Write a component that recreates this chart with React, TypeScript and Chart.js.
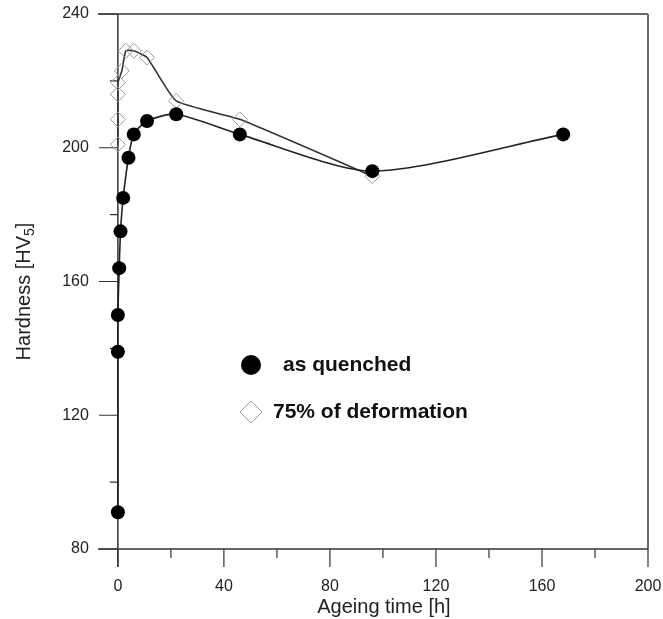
import React, { useEffect, useRef } from "react";
import { Chart, registerables } from "chart.js";
Chart.register(...registerables);

const quenchedTime = [0, 0, 0, 0.5, 1, 2, 4, 6, 11, 22, 46, 96, 168];
const quenchedHardness = [91, 139, 150, 164, 175, 185, 197, 204, 208, 210, 204, 193, 204];
const deformedTime = [0, 0, 0, 0, 1.5, 3, 6, 11, 22, 46, 96];
const deformedHardness = [201, 208.5, 216, 219.5, 223, 229, 229, 227, 214, 208.5, 191.5];
const xMajorTicks = [0, 40, 80, 120, 160, 200];
const xMinorTicks = [20, 60, 100, 140, 180];
const yMajorTicks = [80, 120, 160, 200, 240];
const yMinorTicks = [100, 140, 180, 220];
const xTitle = "Ageing time [h]";
const yTitleMain = "Hardness [HV";
const yTitleSub = "5";
const yTitleEnd = "]";
const legendLabels = ["as quenched", "75% of deformation"];

const FONT = "'Liberation Sans', Arial, Helvetica, sans-serif";

const axesPlugin = {
  id: "customAxes",
  beforeDatasetsDraw(chart: any) {
    const { ctx, chartArea, scales } = chart;
    const xs = scales.x;
    const ys = scales.y;
    const { left, right, top, bottom } = chartArea;
    const x0 = xs.getPixelForValue(0);
    ctx.save();
    ctx.strokeStyle = "#6a6a6a";
    ctx.lineWidth = 2;
    ctx.beginPath();
    ctx.moveTo(left, top);
    ctx.lineTo(right, top);
    ctx.moveTo(right, top);
    ctx.lineTo(right, bottom);
    ctx.stroke();
    ctx.strokeStyle = "#333";
    ctx.lineWidth = 1.5;
    ctx.beginPath();
    ctx.moveTo(left, bottom);
    ctx.lineTo(right, bottom);
    ctx.stroke();
    ctx.beginPath();
    ctx.moveTo(x0, top);
    ctx.lineTo(x0, bottom + 18);
    ctx.stroke();
    ctx.lineWidth = 1.2;
    ctx.beginPath();
    for (const v of yMajorTicks) {
      const y = ys.getPixelForValue(v);
      ctx.moveTo(x0 - 19, y);
      ctx.lineTo(x0, y);
    }
    for (const v of yMinorTicks) {
      const y = ys.getPixelForValue(v);
      ctx.moveTo(x0 - 8, y);
      ctx.lineTo(x0, y);
    }
    for (const v of xMajorTicks) {
      const x = xs.getPixelForValue(v);
      ctx.moveTo(x, bottom);
      ctx.lineTo(x, bottom + 18);
    }
    for (const v of xMinorTicks) {
      const x = xs.getPixelForValue(v);
      ctx.moveTo(x, bottom);
      ctx.lineTo(x, bottom + 9);
    }
    ctx.stroke();
    ctx.fillStyle = "#222";
    ctx.font = `16px ${FONT}`;
    ctx.textAlign = "right";
    ctx.textBaseline = "middle";
    for (const v of yMajorTicks) {
      ctx.fillText(String(v), x0 - 29, ys.getPixelForValue(v));
    }
    ctx.textAlign = "center";
    for (const v of xMajorTicks) {
      ctx.fillText(String(v), xs.getPixelForValue(v), bottom + 38);
    }
    ctx.font = `20px ${FONT}`;
    ctx.fillText(xTitle, (x0 + right) / 2 + 1, bottom + 58);
    ctx.save();
    ctx.translate(24, (top + bottom) / 2 + 10);
    ctx.rotate(-Math.PI / 2);
    ctx.textBaseline = "middle";
    ctx.textAlign = "left";
    ctx.font = `20px ${FONT}`;
    const w1 = ctx.measureText(yTitleMain).width;
    ctx.font = `14px ${FONT}`;
    const w2 = ctx.measureText(yTitleSub).width;
    ctx.font = `20px ${FONT}`;
    const w3 = ctx.measureText(yTitleEnd).width;
    const total = w1 + w2 + w3;
    let cx = -total / 2;
    ctx.fillText(yTitleMain, cx, 0);
    cx += w1;
    ctx.font = `14px ${FONT}`;
    ctx.fillText(yTitleSub, cx, 6);
    cx += w2;
    ctx.font = `20px ${FONT}`;
    ctx.fillText(yTitleEnd, cx, 0);
    ctx.restore();
    ctx.restore();
  },
  afterDraw(chart: any) {
    const { ctx, chartArea } = chart;
    const { left, top } = chartArea;
    ctx.save();
    const lx = left + 153;
    const ly1 = top + 351;
    const ly2 = top + 398;
    ctx.fillStyle = "#000";
    ctx.beginPath();
    ctx.arc(lx, ly1, 10, 0, Math.PI * 2);
    ctx.fill();
    ctx.strokeStyle = "#999";
    ctx.lineWidth = 1;
    ctx.beginPath();
    ctx.moveTo(lx - 11, ly2);
    ctx.lineTo(lx, ly2 - 11);
    ctx.lineTo(lx + 11, ly2);
    ctx.lineTo(lx, ly2 + 11);
    ctx.closePath();
    ctx.stroke();
    ctx.fillStyle = "#111";
    ctx.font = `bold 21px ${FONT}`;
    ctx.textAlign = "left";
    ctx.textBaseline = "middle";
    ctx.fillText(legendLabels[0], lx + 32, ly1);
    ctx.fillText(legendLabels[1], lx + 22, ly2);
    ctx.restore();
  },
};

export default function App() {
  const canvasRef = useRef<HTMLCanvasElement | null>(null);
  useEffect(() => {
    const canvas = canvasRef.current;
    if (!canvas) return;
    const chart = new Chart(canvas, {
      type: "scatter",
      data: {
        datasets: [
          {
            label: legendLabels[0],
            data: quenchedTime.map((t, i) => ({ x: t, y: quenchedHardness[i] })),
            showLine: true,
            borderColor: "#222",
            borderWidth: 1.6,
            tension: 0.25,
            pointStyle: "circle",
            pointRadius: 7,
            pointBackgroundColor: "#000",
            pointBorderColor: "#000",
            pointBorderWidth: 0,
            clip: false,
          } as any,
          {
            label: legendLabels[1],
            data: deformedTime.map((t, i) => ({ x: t, y: deformedHardness[i] })),
            showLine: true,
            borderColor: "#333",
            borderWidth: 1.6,
            tension: 0.15,
            pointStyle: "rectRot",
            pointRadius: 7.5,
            pointBackgroundColor: "rgba(0,0,0,0)",
            pointBorderColor: "#9a9a9a",
            pointBorderWidth: 1,
            clip: false,
          } as any,
        ],
      },
      options: {
        responsive: false,
        animation: false,
        devicePixelRatio: 1,
        layout: { padding: { left: 98, right: 15, top: 14, bottom: 70 } },
        plugins: { legend: { display: false }, tooltip: { enabled: false } },
        scales: {
          x: { type: "linear", min: -7.5, max: 200, display: false },
          y: { type: "linear", min: 80, max: 240, display: false },
        },
      },
      plugins: [axesPlugin],
    });
    return () => chart.destroy();
  }, []);
  return (
    <div style={{ position: "fixed", left: 0, top: 0, width: 663, height: 619, background: "#fff" }}>
      <canvas ref={canvasRef} width={663} height={619} />
    </div>
  );
}
